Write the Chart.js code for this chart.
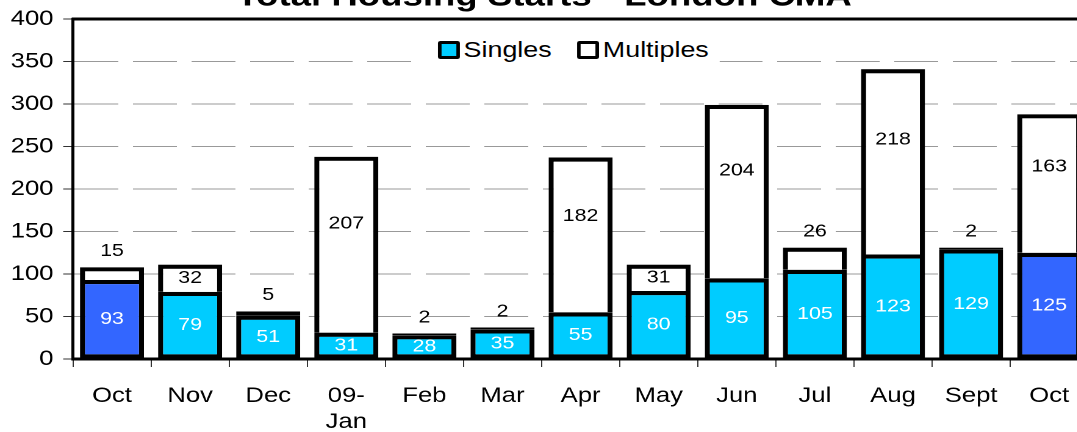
<!DOCTYPE html>
<html>
<head>
<meta charset="utf-8">
<title>Total Housing Starts - London CMA</title>
<script src="https://cdn.jsdelivr.net/npm/chart.js@4.4.0/dist/chart.umd.min.js"></script>
<style>
  html, body { margin: 0; padding: 0; width: 1077px; height: 432px; overflow: hidden; background: #fff; }
  /* the original picture is stretched sideways, so the whole chart is too */
  #wrap { position: absolute; left: 0; top: -40px; width: 900px; height: 472px; transform: scaleX(1.22); transform-origin: 0 0; }
  #legend { position: absolute; left: 340px; top: 75px; width: 250px; height: 30px; padding-left: 19px; box-sizing: border-box; background: #fff;
            display: flex; align-items: center; font-family: "Liberation Sans", Arial, sans-serif; font-size: 22px; color: #000; z-index: 2; }
  #legend .item { display: flex; align-items: center; margin-right: 21px; }
  #legend .box { width: 18px; height: 18px; box-sizing: border-box; border: 3.5px solid #000; border-radius: 2px; margin-right: 3px; }
</style>
</head>
<body>
<div id="wrap">
  <canvas id="myChart"></canvas>
  <div id="legend"></div>
</div>
<script>
const months = ["Oct", "Nov", "Dec", ["09-", "Jan"], "Feb", "Mar", "Apr", "May", "Jun", "Jul", "Aug", "Sept", "Oct"];
const singles = [93, 79, 51, 31, 28, 35, 55, 80, 95, 105, 123, 129, 125];
const multiples = [15, 32, 5, 207, 2, 2, 182, 31, 204, 26, 218, 2, 163];
// the two October bars are shown in a darker blue
const highlighted = [0, 12];

const CYAN = "#00CCFF";
const BLUE = "#3366FF";
const FONT = "'Liberation Sans', Arial, sans-serif";
const BW = 4.2;

// numbers on the bars
const valueLabels = {
  id: "valueLabels",
  afterDatasetsDraw(chart) {
    const ctx = chart.ctx;
    ctx.save();
    ctx.font = "17.5px " + FONT;
    ctx.textAlign = "center";
    ctx.textBaseline = "middle";
    chart.data.datasets.forEach((ds, i) => {
      const meta = chart.getDatasetMeta(i);
      meta.data.forEach((bar, j) => {
        const v = ds.data[j];
        let y = (bar.y + bar.base) / 2;
        if (i === 1) {
          if (v < 30) y = bar.y - 16; // no room inside, put it above
          else if (v > 100) y = bar.y + (bar.base - bar.y) * 0.38;
        }
        ctx.fillStyle = i === 0 ? "#fff" : "#000";
        ctx.fillText(v, bar.x, y);
      });
    });
    ctx.restore();
  },
};

// black line on top of the plot area
const frame = {
  id: "frame",
  beforeDatasetsDraw(chart) {
    const { ctx, chartArea } = chart;
    ctx.save();
    ctx.strokeStyle = "#000";
    ctx.lineWidth = 3;
    ctx.beginPath();
    ctx.moveTo(chartArea.left - 1, chartArea.top);
    ctx.lineTo(chartArea.right, chartArea.top);
    ctx.lineTo(chartArea.right, chartArea.bottom);
    ctx.stroke();
    ctx.restore();
  },
};

const ctx = document.getElementById("myChart").getContext("2d");
const myChart = new Chart(ctx, {
  type: "bar",
  data: {
    labels: months,
    datasets: [
      {
        label: "Singles",
        data: singles,
        backgroundColor: (c) => (highlighted.includes(c.dataIndex) ? BLUE : CYAN),
        borderColor: "#000",
        borderWidth: BW,
        borderSkipped: false,
      },
      {
        label: "Multiples",
        data: multiples,
        backgroundColor: "#fff",
        borderColor: "#000",
        // thin slivers get closed so they come out solid black
        borderWidth: (c) => ({ top: BW, left: BW, right: BW, bottom: c.raw < 10 ? BW : 0 }),
        borderSkipped: false,
      },
    ],
  },
  options: {
    responsive: true,
    maintainAspectRatio: false,
    animation: false,
    devicePixelRatio: 2,
    barPercentage: 0.82,
    categoryPercentage: 1,
    layout: { padding: { left: 0, right: 8, top: 0, bottom: 0 } },
    scales: {
      x: {
        stacked: true,
        afterFit: (scale) => { scale.height = 73; },
        grid: { drawOnChartArea: false, offset: true, tickLength: 8, tickColor: "#333", tickWidth: 1 },
        border: { color: "#000", width: 3 },
        ticks: { color: "#000", padding: 16, font: { family: FONT, size: 21, lineHeight: 1.24 }, maxRotation: 0, autoSkip: false },
      },
      y: {
        stacked: true,
        min: 0,
        max: 400,
        afterFit: (scale) => { scale.width = 59.8; },
        grid: { color: "#999", lineWidth: 1, tickLength: 8, tickColor: "#333", tickWidth: 1, tickBorderDash: [] },
        border: { color: "#000", width: 2.5, dash: [36, 12] },
        ticks: { stepSize: 50, color: "#000", padding: 8, font: { family: FONT, size: 21 } },
      },
    },
    plugins: {
      legend: { display: false },
      tooltip: { enabled: false },
      title: {
        display: true,
        text: "Total Housing Starts - London CMA",
        color: "#000",
        font: { family: FONT, size: 30, weight: "bold", lineHeight: 1.2 },
        padding: { top: 19, bottom: 4 },
      },
    },
  },
  plugins: [frame, valueLabels],
});

// legend drawn as html so the box sits close to its text
const legend = document.getElementById("legend");
myChart.data.datasets.forEach((ds, i) => {
  const item = document.createElement("div");
  item.className = "item";
  const box = document.createElement("span");
  box.className = "box";
  box.style.background = i === 0 ? CYAN : ds.backgroundColor;
  const txt = document.createElement("span");
  txt.textContent = ds.label;
  item.appendChild(box);
  item.appendChild(txt);
  legend.appendChild(item);
});
</script>
</body>
</html>
